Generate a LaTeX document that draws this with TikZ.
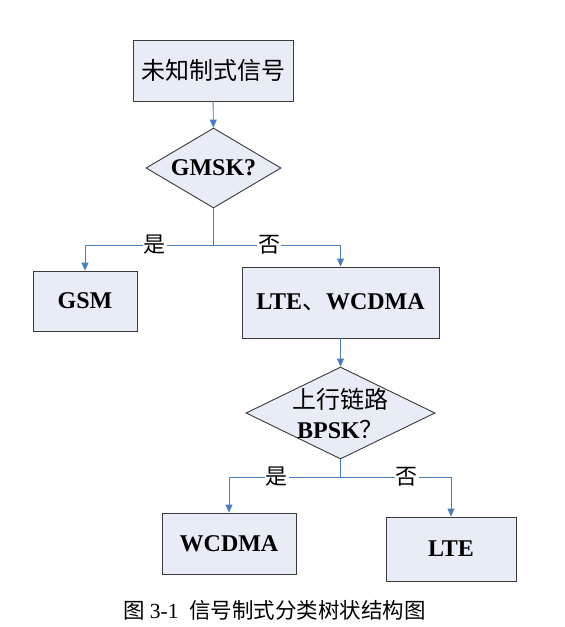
\documentclass[tikz,border=0pt]{standalone}
\usepackage{fontspec}
\setmainfont{Liberation Serif}
\newfontfamily\cjk{Noto Sans CJK SC}
\usepackage{xcolor}
\usetikzlibrary{positioning, shapes.geometric, arrows.meta}

\definecolor{boxfill}{HTML}{E7ECF6}
\definecolor{linkblue}{HTML}{4A7EBB}
\definecolor{boxline}{HTML}{3A3A3A}

\begin{document}
\begin{tikzpicture}[
    x=1pt, y=-1pt,
    every node/.style={font=\fontsize{24pt}{30pt}\selectfont},
    block/.style={rectangle, draw=boxline, fill=boxfill, line width=0.9pt, align=center},
    decision/.style={diamond, draw=boxline, fill=boxfill, line width=0.9pt, inner sep=0pt, align=center},
    link/.style={draw=linkblue, line width=0.9pt},
    arrow/.style={link, -{Triangle[length=8pt, width=7pt]}},
    yesno/.style={fill=white, inner sep=1pt, font=\fontsize{22pt}{24pt}\selectfont\cjk}
]
\useasboundingbox (0,0) rectangle (565,627);

% Nodes
\node[block, minimum width=160pt, minimum height=61pt] (start) at (213,70.5) {\cjk 未知制式信号};
\node[decision, aspect=1.69, minimum width=135pt, minimum height=80pt] (gmsk) at (213.5,168) {\textbf{GMSK?}};

\node[block, minimum width=104pt, minimum height=60pt] (gsm) at (85,301) {\textbf{GSM}};
\node[block, minimum width=197pt, minimum height=71pt] (ltewcdma) at (340.5,302.5) {\textbf{LTE}{\cjk 、}\textbf{WCDMA}};

\node[decision, aspect=2.05, inner sep=-10pt, minimum width=189pt, minimum height=92pt] (bpsk) at (340.5,413) {{\cjk 上行链路}\\\textbf{BPSK}{\cjk ？}};

\node[block, minimum width=134pt, minimum height=61pt] (wcdma) at (229,543.5) {\textbf{WCDMA}};
\node[block, minimum width=130pt, minimum height=64pt] (lte) at (451,549) {\textbf{LTE}};

\coordinate (split1) at (213.5,245);
\coordinate (split2) at (340.5,477);

% Arrows
\draw[arrow] (start) -- (gmsk);
\draw[link] (gmsk.south) -- (split1);
\draw[arrow] (split1) -| node[yesno, pos=0.228]{是} (gsm.north);
\draw[arrow] (split1) -| node[yesno, pos=0.219]{否} (ltewcdma.north);

\draw[arrow] (ltewcdma) -- (bpsk);
\draw[link] (bpsk.south) -- (split2);
\draw[arrow] (split2) -| node[yesno, pos=0.285]{是} (wcdma.north);
\draw[arrow] (split2) -| node[yesno, pos=0.30]{否} (lte.north);

% Caption
\node (caption) at (274.5,610) {\fontsize{21.5pt}{24pt}\selectfont{\cjk 图}~3-1~~{\cjk 信号制式分类树状结构图}};

\end{tikzpicture}
\end{document}
